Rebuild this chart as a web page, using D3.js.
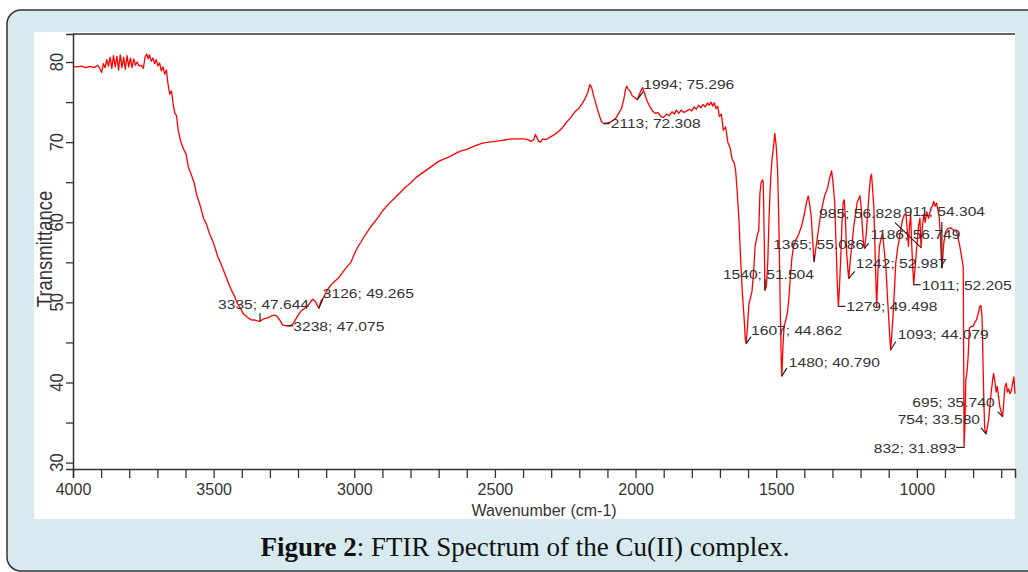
<!DOCTYPE html>
<meta charset="utf-8">
<script src="https://d3js.org/d3.v7.min.js"></script>
<style>
  body { margin: 0; background: #fff; }
</style>
<body>
<script>

// Spectrum: wavenumber (cm-1) and transmittance
var waveNumbers = [
  4000,3985,3970,3955,3940,3925,3912,3905,3898,3892,3886,3880,3874,3868,3862,3856,3850,3844,3838,3832,
  3826,3820,3814,3808,3802,3796,3790,3784,3778,3772,3765,3758,3750,3744,3738,3733,3728,3722,3716,3710,
  3704,3698,3692,3686,3680,3674,3668,3662,3656,3650,3644,3638,3632,3626,3618,3608,3598,3590,3580,3570,
  3560,3548,3536,3525,3515,3505,3495,3485,3475,3465,3455,3445,3435,3425,3415,3405,3395,3385,3375,3365,
  3355,3345,3335,3325,3315,3305,3295,3285,3276,3265,3255,3245,3238,3228,3218,3205,3190,3175,3160,3148,
  3138,3130,3126,3118,3108,3095,3082,3070,3055,3040,3025,3012,3000,2988,2975,2960,2940,2920,2900,2880,
  2860,2840,2820,2800,2780,2760,2740,2720,2700,2680,2660,2640,2620,2600,2580,2560,2540,2520,2500,2480,
  2460,2440,2420,2400,2385,2372,2362,2356,2350,2344,2338,2330,2320,2305,2290,2275,2260,2245,2230,2215,
  2200,2190,2180,2170,2162,2156,2150,2142,2132,2122,2113,2100,2090,2080,2070,2060,2050,2042,2036,2032,
  2026,2020,2012,2004,1994,1986,1980,1975,1968,1960,1950,1940,1930,1920,1910,1900,1890,1880,1870,1862,
  1855,1846,1838,1828,1818,1808,1800,1792,1784,1776,1768,1760,1752,1744,1738,1732,1726,1720,1714,1708,
  1702,1695,1688,1680,1672,1664,1656,1650,1644,1638,1632,1626,1620,1614,1610,1607,1602,1597,1592,1586,
  1580,1575,1568,1562,1558,1554,1549,1546,1543,1540,1535,1530,1525,1520,1515,1510,1505,1500,1495,1490,
  1486,1482,1480,1476,1472,1466,1460,1455,1450,1444,1438,1430,1420,1410,1400,1392,1386,1380,1375,1370,
  1366,1365,1360,1352,1344,1336,1328,1318,1310,1303,1298,1292,1287,1283,1279,1275,1270,1266,1262,1258,
  1254,1250,1245,1242,1236,1230,1224,1218,1212,1206,1202,1198,1194,1190,1186,1180,1175,1170,1165,1161,
  1157,1153,1149,1143,1138,1133,1127,1122,1116,1110,1105,1101,1096,1093,1089,1084,1079,1075,1068,1063,
  1056,1051,1044,1039,1034,1030,1026,1022,1018,1014,1011,1006,1000,994,989,985,980,975,970,965,
  958,950,945,940,935,930,925,920,916,913,911,908,904,898,890,880,870,860,853,847,
  840,835,833,832,829,826,822,818,813,806,800,794,788,782,776,772,768,765,762,759,
  756,754,750,745,741,736,730,727,722,718,714,710,705,700,695,691,687,682,678,674,
  669,664,660,655,651
];
var transmittance = [
  79.45,79.4,79.5,79.3,79.45,79.3,79.6,79.2,78.7,79.8,79.3,80.3,79.5,80.6,79.2,80.8,79.4,80.7,79.0,80.9,
  79.3,80.6,79.1,80.8,79.4,80.5,79.3,80.4,79.6,80.0,79.5,79.6,79.2,80.6,81.0,80.4,80.9,80.1,80.5,79.8,
  80.3,79.5,79.9,78.9,79.4,78.5,79.0,77.2,76.0,76.4,74.8,73.6,73.3,71.5,70.2,69.2,68.5,66.9,66.0,65.0,
  63.4,62.1,60.5,59.7,58.6,57.8,56.8,55.7,54.9,54.0,53.1,52.2,51.4,50.7,49.8,49.3,48.6,48.3,48.0,47.8,
  47.8,47.7,47.64,47.9,48.0,48.1,48.3,48.4,48.3,47.8,47.2,47.1,47.08,47.1,47.3,48.1,48.9,49.3,49.8,50.4,
  50.1,49.5,49.27,50.2,50.7,51.6,52.2,52.6,53.1,53.8,54.5,55.0,56.0,56.9,57.6,58.5,59.5,60.4,61.4,62.2,
  62.9,63.6,64.3,64.9,65.6,66.1,66.6,67.1,67.6,67.9,68.2,68.6,68.9,69.1,69.4,69.7,69.9,70.0,70.1,70.2,
  70.3,70.4,70.4,70.4,70.35,70.1,70.3,70.95,70.5,70.1,70.0,70.4,70.3,70.6,70.9,71.3,71.8,72.5,73.1,73.8,
  74.3,74.8,75.4,76.2,77.2,76.8,75.9,74.9,73.7,72.6,72.31,72.4,72.5,72.7,73.0,73.6,74.2,75.3,76.5,77.0,
  76.6,76.4,75.8,75.6,75.30,76.0,76.5,76.8,76.1,75.2,74.5,73.9,73.6,73.7,73.2,73.1,73.5,73.3,73.8,73.5,
  74.0,73.6,74.0,73.7,73.9,74.1,73.9,74.4,74.1,74.6,74.3,74.7,74.4,74.9,74.6,75.0,74.5,74.9,74.2,74.5,
  73.2,73.5,71.5,71.9,70.0,69.3,67.8,67.5,66.4,63.5,60.0,55.0,51.0,48.0,45.5,44.86,47.0,49.8,50.5,51.4,
  54.0,57.0,58.3,59.0,63.5,64.9,65.3,65.0,59.0,51.5,52.0,55.0,61.0,65.2,67.8,69.3,71.1,69.5,66.5,59.0,
  50.0,42.5,40.79,44.5,47.0,47.8,48.7,50.5,53.0,55.6,57.0,57.8,58.5,59.5,61.0,62.5,63.3,62.0,60.5,57.5,
  55.3,55.09,56.5,58.5,60.5,62.0,63.3,64.2,65.5,66.4,65.0,62.5,57.0,52.5,49.5,52.0,56.0,60.0,62.5,62.8,
  60.5,56.5,54.0,52.99,55.5,57.5,59.5,61.0,62.5,63.0,63.3,62.0,59.5,57.5,56.75,58.5,61.0,63.5,65.5,66.0,
  64.0,62.0,57.0,49.5,54.0,57.0,58.0,58.6,56.5,54.4,51.0,48.6,45.5,44.08,46.0,48.6,52.0,54.9,56.8,57.8,
  59.3,60.3,61.0,61.1,59.0,57.0,59.5,61.1,57.0,54.0,52.2,54.5,57.0,59.5,60.5,56.83,59.5,61.0,60.0,61.3,
  60.5,61.8,62.0,62.6,62.0,62.4,61.5,60.5,58.0,55.5,54.30,55.5,57.5,58.8,59.2,59.3,59.0,59.0,58.0,57.0,
  55.5,54.4,40.0,31.89,35.0,40.3,41.2,43.0,46.8,47.0,47.0,47.5,47.8,48.6,49.5,49.6,48.0,43.0,38.0,34.5,
  33.7,33.58,34.2,35.3,36.8,38.6,40.5,41.1,40.0,38.8,39.5,38.4,37.0,36.3,35.74,37.5,39.4,39.9,38.8,39.2,
  38.6,39.0,39.8,40.7,38.6
];

// Peak picks printed on the chart
var peakWaves = [3335, 3238, 3126, 2113, 1994, 1607, 1540, 1480, 1365, 1279, 1242, 1186, 1093, 1011, 985, 911, 832, 754, 695];
var peakValues = [47.644, 47.075, 49.265, 72.308, 75.296, 44.862, 51.504, 40.790, 55.086, 49.498, 52.987, 56.749, 44.079, 52.205, 56.828, 54.304, 31.893, 33.580, 35.740];

var xTicks = d3.range(4000, 650, -100);
var yTicks = [30, 35, 40, 45, 50, 55, 60, 65, 70, 75, 80];

// where each peak label sits relative to its point: [text dx, text dy, leader dx, leader dy, anchor]
var labelPlace = {
  3335: [-42, -17, 0, -8, "start"],
  3238: [6, 1, 6, 0, "start"],
  3126: [4, -15, 4, -9, "start"],
  2113: [7, 0, 6, 0, "start"],
  1994: [6, -15, 6, -8, "start"],
  1607: [5, -13, 5, -7, "start"],
  1540: [-42, -16, 0, -11, "start"],
  1480: [7, -14, 5, -8, "start"],
  1365: [-41, -17, 0, -7, "start"],
  1279: [8, 0, 7, 0, "start"],
  1242: [7, -15, 6, -7, "start"],
  1186: [6, -14, 4, -5, "start"],
  1093: [7, -15, 5, -8, "start"],
  1011: [8, 1, 7, 0, "start"],
  985: [-102, -34, -26, -25, "start"],
  911: [-38, -56, 0, -46, "start"],
  832: [-8, 1, -8, 0, "end"],
  754: [-6, -14, -5, -6, "end"],
  695: [-8, -14, -5, -5, "end"]
};

var W = 1028, H = 572;
var svg = d3.select("body").append("svg").attr("width", W).attr("height", H)
  .style("font-family", "'Liberation Sans', Arial, sans-serif");

// framed panel and white plot area
svg.append("rect").attr("x", 7).attr("y", 10).attr("width", 1040).attr("height", 561)
  .attr("rx", 14).attr("fill", "#d7eaf0").attr("stroke", "#333").attr("stroke-width", 1.5);
svg.append("rect").attr("x", 34).attr("y", 32).attr("width", 981).attr("height", 487).attr("fill", "#fff");

var x = d3.scaleLinear().domain([4000, 651]).range([73, 1015]);
var y = d3.scaleLinear().domain([29.2, 83.5]).range([469, 34]);

// top frame line
svg.append("line").attr("x1", 73).attr("x2", 1015).attr("y1", 34).attr("y2", 34)
  .attr("stroke", "#333").attr("stroke-width", 1.5);

var xAxis = svg.append("g").attr("transform", "translate(0,469)")
  .call(d3.axisBottom(x).tickValues(xTicks).tickSize(9).tickPadding(6)
    .tickFormat(function(d) { return d % 500 === 0 ? d : ""; }));
xAxis.attr("font-family", null);
xAxis.selectAll("text").attr("font-size", 16).attr("fill", "#333");

var yAxis = svg.append("g").attr("transform", "translate(73,0)")
  .call(d3.axisLeft(y).tickValues(yTicks).tickSize(7).tickFormat(""));

svg.selectAll(".domain").attr("stroke", "#333").attr("stroke-width", 1.5);
svg.selectAll(".tick line").attr("stroke", "#333").attr("stroke-width", 1.3);

// rotated y tick labels
svg.append("g").selectAll("text")
  .data(yTicks.filter(function(d) { return d % 10 === 0; }))
  .enter().append("text")
    .attr("transform", function(d) { return "translate(63," + y(d) + ") scale(1.15,1) rotate(-90)"; })
    .attr("text-anchor", "middle")
    .attr("font-size", 16.5)
    .attr("fill", "#333")
    .text(function(d) { return d; });

svg.append("text")
  .attr("transform", "translate(52,249) scale(1.2,1) rotate(-90)")
  .attr("text-anchor", "middle").attr("font-size", 18.5).attr("fill", "#333")
  .text("Transmittance");

svg.append("text").attr("x", 544).attr("y", 515.5).attr("text-anchor", "middle")
  .attr("font-size", 16).attr("fill", "#333").text("Wavenumber (cm-1)");

// the spectrum
var spectrum = waveNumbers.map(function(w, i) { return [w, transmittance[i]]; });
svg.append("path").datum(spectrum)
  .attr("fill", "none").attr("stroke", "#f00").attr("stroke-width", 1.3)
  .attr("stroke-linejoin", "round")
  .attr("d", d3.line().x(function(d) { return x(d[0]); }).y(function(d) { return y(d[1]); }));

// peak labels
var peaks = peakWaves.map(function(w, i) { return { w: w, v: peakValues[i], p: labelPlace[w] }; });
var pk = svg.append("g").selectAll("g").data(peaks).enter().append("g")
  .attr("transform", function(d) { return "translate(" + x(d.w) + "," + y(d.v) + ")"; });
pk.append("line").attr("x1", 0).attr("y1", 0)
  .attr("x2", function(d) { return d.p[2]; }).attr("y2", function(d) { return d.p[3]; })
  .attr("stroke", "#222").attr("stroke-width", 1.2);
pk.append("text")
  .attr("transform", function(d) { return "translate(" + d.p[0] + "," + d.p[1] + ") scale(1.2,1)"; })
  .attr("dy", "0.35em")
  .attr("text-anchor", function(d) { return d.p[4]; })
  .attr("font-size", 13).attr("fill", "#333")
  .text(function(d) { return d.w + "; " + d.v.toFixed(3); });

// caption
var cap = svg.append("text").attr("x", 525).attr("y", 556).attr("text-anchor", "middle")
  .style("font-family", "'Liberation Serif', 'Times New Roman', serif")
  .attr("font-size", 27).attr("fill", "#111");
cap.append("tspan").attr("font-weight", "bold").text("Figure 2");
cap.append("tspan").text(": FTIR Spectrum of the Cu(II) complex.");

</script>
</body>
